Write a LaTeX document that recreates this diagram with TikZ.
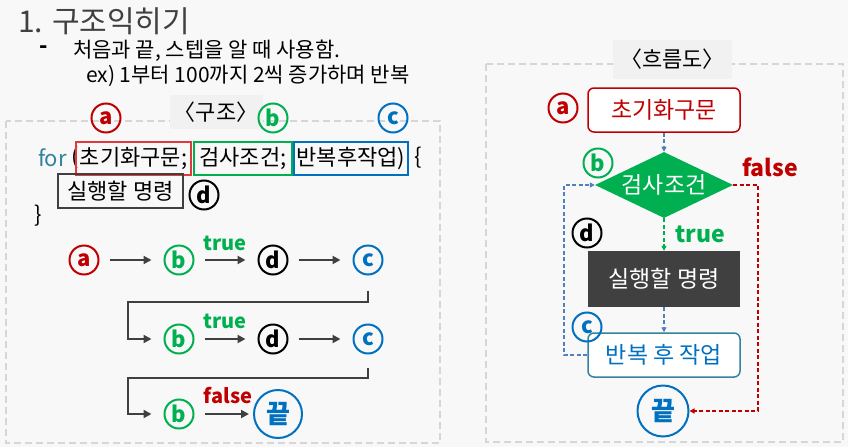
\documentclass[tikz,border=0pt]{standalone}
\usepackage{fontspec}
\setmainfont{Noto Sans CJK KR}
\usetikzlibrary{arrows.meta,shapes.geometric}
\definecolor{bgc}{HTML}{F8F8F8}
\definecolor{labbg}{HTML}{F1F1F1}
\definecolor{dashgray}{HTML}{D6D6D6}
\definecolor{cred}{HTML}{C00000}
\definecolor{lred}{HTML}{E0393E}
\definecolor{cgreen}{HTML}{00B050}
\definecolor{cblue}{HTML}{0070C0}
\definecolor{cteal}{HTML}{31849B}
\definecolor{dgray}{HTML}{404040}
\definecolor{dblue}{HTML}{4F81BD}
\tikzset{
  fs/.style={font=\fontsize{#1}{#1}\selectfont},
  letc/.style={circle, draw=#1, text=#1, line width=2pt, minimum size=29pt, inner sep=0pt, font=\fontsize{22}{22}\selectfont\bfseries},
  codebox/.style={draw=#1, line width=1.6pt, minimum height=33pt, inner xsep=0pt, inner ysep=1pt, fs=22, text=black},
  seqarrow/.style={draw=dgray, line width=2pt, -{Triangle[length=8pt,width=8pt]}},
  boxdash/.style={draw=dashgray, line width=2pt, dash pattern=on 7pt off 4pt},
  labelbg/.style={fill=labbg, inner sep=0pt, fs=22},
  fdash/.style={line width=1.4pt, dash pattern=on 4pt off 2.5pt, -{Triangle[length=5pt,width=5pt]}},
  lbl/.style={font=\fontsize{#1}{#1}\selectfont\bfseries},
  fbox/.style={minimum width=152pt, inner sep=0pt, fs=23}
}
\begin{document}
\begin{tikzpicture}[x=1pt,y=-1pt]
\useasboundingbox (0,0) rectangle (848,447);
\fill[bgc] (0,0) rectangle (848,447);

% heading
\node[anchor=west, fs=30, text=dgray, inner sep=0pt] (title) at (18,21) {1. 구조익히기};
\node[font=\fontsize{22}{22}\selectfont\bfseries, inner sep=0pt] (dash) at (44,50) {-};
\node[anchor=west, fs=21, inner sep=0pt] (sub1) at (73,51) {처음과 끝, 스텝을 알 때 사용함.};
\node[anchor=west, fs=21, inner sep=0pt] (sub2) at (86,76) {ex) 1부터 100까지 2씩 증가하며 반복};

% left panel
\draw[boxdash] (6,121) rectangle (440,443);
\node[labelbg, minimum width=93pt, minimum height=34pt] (lab1) at (216,112) {〈구조〉};
\node[letc=cred] (ca) at (106,118) {a};
\node[letc=cgreen] (cb) at (273,118) {b};
\node[letc=cblue] (cc) at (393,118) {c};

\node[anchor=east, fs=22, text=cteal, inner sep=0pt] (for) at (67,158) {for};
\node[anchor=west, fs=22, inner sep=0pt] (par) at (71,158) {(};
\node[codebox=lred, minimum width=115pt] (ib) at (133.5,158.5) {초기화구문;};
\node[codebox=cgreen, minimum width=98pt] (tb) at (243,158.5) {검사조건;};
\node[codebox=cblue, minimum width=114pt] (ab) at (351,158.5) {반복후작업)};
\node[anchor=west, fs=22, inner sep=0pt] (brace) at (414,158) {\{};
\node[codebox=dgray, minimum width=125pt, minimum height=34pt] (xb) at (120.5,191) {실행할 명령};
\node[letc=black] (cd) at (204,195) {d};
\node[fs=22, inner sep=0pt] (cbrace) at (38,216) {\}};

% sequence
\node[letc=cred] (r1a) at (84,260) {a};
\node[letc=cgreen] (r1b) at (179,260) {b};
\node[letc=black] (r1d) at (273,260) {d};
\node[letc=cblue] (r1c) at (368,260) {c};
\node[letc=cgreen] (r2b) at (179,339) {b};
\node[letc=black] (r2d) at (273,339) {d};
\node[letc=cblue] (r2c) at (368,339) {c};
\node[letc=cgreen] (r3b) at (179,414) {b};
\node[circle, draw=cblue, text=cblue, line width=2pt, minimum size=48pt, inner sep=0pt, font=\fontsize{26}{26}\selectfont\bfseries] (end1) at (278,414) {끝};

\draw[seqarrow, shorten <=10pt, shorten >=12pt] (r1a) -- (r1b);
\draw[seqarrow, shorten <=10pt, shorten >=12pt] (r1b) -- (r1d);
\draw[seqarrow, shorten <=10pt, shorten >=12pt] (r1d) -- (r1c);
\draw[seqarrow, shorten <=10pt, shorten >=12pt] (r2b) -- (r2d);
\draw[seqarrow, shorten <=10pt, shorten >=12pt] (r2d) -- (r2c);
\draw[seqarrow, shorten <=10pt, shorten >=4pt] (r3b) -- (end1);
\draw[seqarrow] ([yshift=-15pt]r1c.south) -- ([yshift=-26pt]r1c.south) -| (128,339) -- ([xshift=-12pt]r2b.west);
\draw[seqarrow] ([yshift=-13pt]r2c.south) -- ([yshift=-23pt]r2c.south) -| (128,414) -- ([xshift=-12pt]r3b.west);
\node[lbl=20, text=cgreen] (t1) at (225,243) {true};
\node[lbl=20, text=cgreen] (t2) at (225,321) {true};
\node[lbl=20, text=cred] (f1) at (228,396) {false};

% right panel
\draw[boxdash] (486,64) rectangle (843,442);
\node[labelbg, minimum width=119pt, minimum height=39pt] (lab2) at (672.5,59.5) {〈흐름도〉};

\node[fbox, draw=cred, fill=white, line width=1.5pt, rounded corners=6pt, minimum height=44pt, text=cred] (init) at (664,110) {초기화구문};
\node[diamond, aspect=2, fill=cgreen, minimum width=138pt, minimum height=66pt, inner sep=0pt, text=white, fs=23] (dia) at (664,185) {검사조건};
\node[fbox, fill=dgray, minimum height=56pt, text=white] (exec) at (664,279) {실행할 명령};
\node[fbox, draw=cteal, fill=white, line width=1.5pt, rounded corners=6pt, minimum height=44pt, text=cblue] (after) at (664,355) {반복 후 작업};
\node[circle, draw=cblue, text=cblue, line width=2pt, minimum size=51pt, inner sep=0pt, font=\fontsize{26}{26}\selectfont\bfseries] (end2) at (663,411) {끝};

\node[letc=cred] (fa) at (563,108) {a};
\node[letc=cgreen] (fb) at (598,163) {b};
\node[letc=black] (fd) at (587,233) {d};
\node[letc=cblue] (fc) at (587,327) {c};

\coordinate (fr) at (758,185);
\coordinate (fl) at (564,355);
\draw[fdash, draw=dblue] (init) -- (dia);
\draw[fdash, draw=cgreen] (dia) -- (exec);
\draw[fdash, draw=dblue] (exec) -- (after);
\draw[fdash, draw=cred] (dia.east) -- (fr) |- (end2.east);
\draw[fdash, draw=dblue] (after.west) -- (fl) |- (dia.west);
\node[lbl=23, text=cred] (f2) at (770,167) {false};
\node[lbl=23, text=cgreen] (t3) at (700,234) {true};
\end{tikzpicture}
\end{document}
